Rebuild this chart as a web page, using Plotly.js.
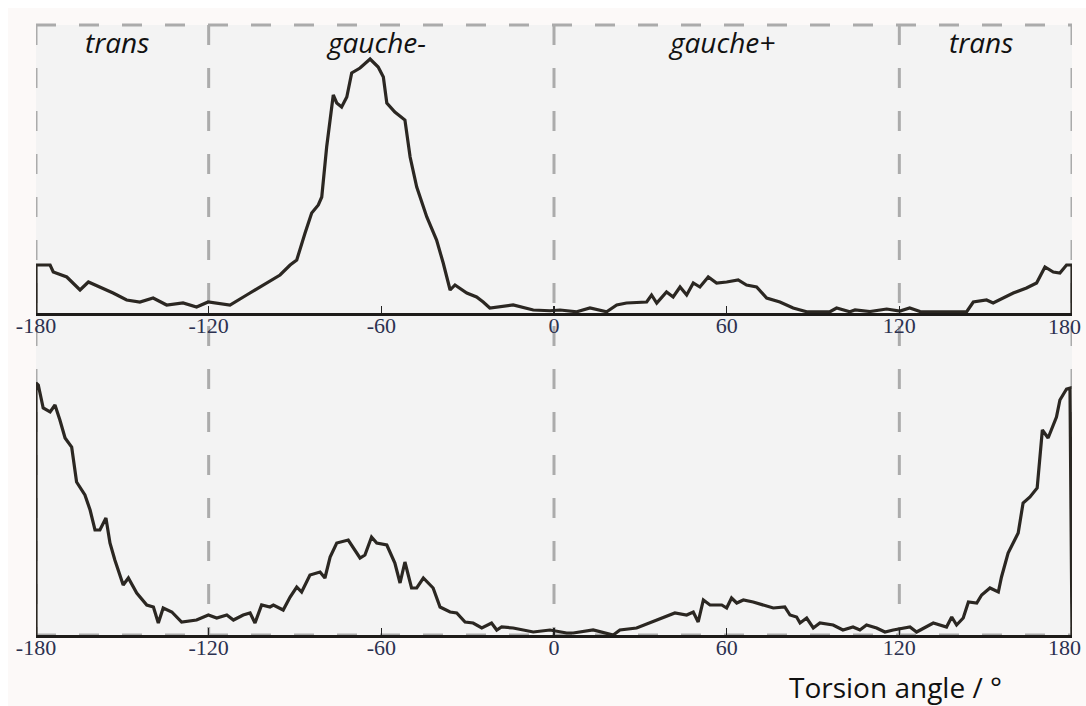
<!DOCTYPE html>
<html>
<head>
<meta charset="utf-8">
<script src="https://cdn.plot.ly/plotly-3.0.1.min.js"></script>
<style>
  html, body { margin: 0; padding: 0; background: #ffffff; }
  #chart { width: 1086px; height: 706px; }
</style>
</head>
<body>
<div id="chart"></div>
<script>
// Torsion-angle distributions (arbitrary density units), two conditions.
const tickAngles = [-180, -120, -60, 0, 60, 120, 180];
const tickLabels = ['-180', '-120', '-60', '0', '60', '120', '180'];
const regionBounds = [-180, -120, 0, 120, 180];
const regionNames = ['trans', 'gauche-', 'gauche+', 'trans'];
const regionCenters = [-150, -60, 60, 150];

const upperAngle = [
  -180, -180, -175.1, -174.0, -169.3, -164.7, -161.8, -157.8, -153.2, -148.5,
  -143.9, -139.3, -134.6, -128.9, -124.2, -120.2, -112.6, -106.8, -99.8, -95.2,
  -91.7, -89.4, -86.5, -84.2, -81.9, -80.7, -79.0, -76.7, -75.5, -73.8,
  -72.0, -70.3, -67.4, -63.9, -61.1, -59.3, -58.1, -55.3, -51.8, -50.0,
  -47.7, -44.2, -40.8, -38.5, -36.1, -34.4, -30.3, -26.9, -24.6, -22.3,
  -14.2, -7.2, -1.4, 2.1, 7.9, 12.5, 18.3, 21.8, 25.2, 32.2,
  33.9, 35.7, 39.1, 41.4, 43.8, 46.1, 48.4, 50.7, 53.6, 56.5,
  60.0, 64.0, 66.9, 70.4, 73.9, 78.5, 83.1, 87.8, 95.9, 98.2,
  102.8, 104.6, 109.8, 115.6, 120.2, 123.6, 127.2, 134.1, 141.1, 143.4,
  145.7, 150.3, 152.6, 156.1, 159.6, 164.2, 167.7, 170.6, 173.5, 175.8,
  178.1, 179.5, 180, 180
];
const upperDensity = [
  0, 19.2, 19.2, 16.4, 14.4, 9.2, 12.4, 10.4, 8, 5.2,
  4.4, 6, 3.2, 4, 2.4, 4.4, 3.2, 7.2, 12, 15.2,
  19.2, 21.2, 32, 40, 43.2, 46.4, 66.4, 87.2, 84, 82.4,
  86.4, 96, 98, 101.6, 98.4, 94.4, 84, 80.4, 77.2, 62.4,
  50.4, 38.4, 29.2, 20, 9.2, 11.2, 8, 6.4, 4.4, 2,
  3.2, 1.2, 0.9, 1.2, 0.5, 2, 0.5, 3.2, 4, 4.4,
  7.2, 4, 8.4, 6.4, 10.4, 7.2, 12, 10.4, 14.4, 12,
  12.4, 13.2, 11.2, 10.4, 6, 4.4, 2, 0.5, 0.5, 2,
  0.5, 1.2, 0.6, 1.6, 0.8, 2, 0.6, 0.6, 0.8, 0.5,
  4.4, 5.2, 4, 6, 8, 10, 12, 18.4, 16.4, 16,
  19.2, 19.2, 19.2, 0
];

const lowerAngle = [
  -180, -180, -179.2, -177.5, -175.1, -173.4, -171.7, -169.9, -167.6, -165.9,
  -163.0, -161.2, -159.5, -157.8, -155.7, -154.3, -152.6, -149.7, -147.9, -145.0,
  -141.5, -139.2, -137.5, -135.8, -132.8, -129.4, -124.2, -120.1, -117.2, -113.7,
  -111.4, -108.0, -105.6, -103.9, -101.6, -98.7, -97.5, -94.1, -91.7, -89.4,
  -87.7, -84.8, -81.3, -79.6, -77.8, -75.5, -71.5, -67.4, -65.7, -63.4,
  -61.6, -58.1, -55.3, -53.5, -51.8, -49.5, -47.7, -45.4, -42.0, -39.6,
  -36.1, -33.8, -30.9, -28.1, -25.1, -21.7, -19.9, -18.2, -14.2, -7.2,
  -1.4, 4.4, 6.7, 9.0, 13.6, 20.6, 22.9, 28.7, 33.3, 38.0,
  42.0, 46.1, 48.4, 50.1, 51.9, 54.2, 58.3, 60.0, 61.7, 63.5,
  65.8, 69.2, 72.7, 76.2, 80.2, 82.0, 84.3, 85.5, 87.8, 90.1,
  92.4, 97.0, 100.4, 103.9, 106.3, 108.6, 112.1, 115.0, 117.9, 123.7,
  126.0, 131.8, 136.4, 138.2, 139.9, 142.2, 144.0, 146.9, 148.6, 151.5,
  154.4, 155.5, 157.8, 161.3, 163.0, 165.4, 167.9, 168.8, 169.7, 171.7,
  174.6, 175.8, 178.1, 179.3, 180
];
const lowerDensity = [
  0, 100.8, 100, 90.8, 89.2, 92, 86, 78.8, 75.2, 61.2,
  56, 50, 42, 42, 46.8, 36.8, 30, 20, 22.8, 16.8,
  12, 11.2, 4.8, 10.8, 9.2, 5.2, 6, 8, 6.8, 8,
  6, 8, 8.8, 4.8, 12, 11.2, 12, 10, 15.2, 19.2,
  17.2, 24, 25.2, 22.8, 31.2, 36.8, 38, 30.8, 32, 39.2,
  36.8, 36, 28.8, 20.8, 29.2, 18.8, 18.8, 22.8, 18.8, 11.2,
  9.2, 8.8, 5.2, 4.8, 2.8, 4.8, 2, 3.2, 2.8, 1.2,
  2, 0.8, 0.8, 1.2, 2, 0, 2, 2.8, 4.8, 6.8,
  8.8, 8, 9.2, 5.2, 14, 12, 12, 10.8, 14.8, 12.8,
  14, 13.2, 12, 10.8, 11.2, 8, 7.2, 4.8, 6.8, 2.8,
  4.8, 4, 2, 3.2, 2, 4, 2.8, 1.2, 2, 3.2,
  1.2, 4.8, 3.2, 7.2, 4, 6.8, 13.2, 12.8, 16, 18.8,
  17.2, 23.2, 32.8, 40.8, 52.8, 55.2, 58.8, 71.2, 82, 78.8,
  87.2, 94, 98.4, 98.8, 0
];

const W = 1086, H = 706;
const px = v => v / W;          // horizontal pixel -> paper fraction
const py = v => 1 - v / H;      // vertical pixel (from top) -> paper fraction

const frameTop = py(25), frameBottom = py(635);
const dashStyle = { color: '#ababab', width: 3, dash: '20px,23px' };
const tickFont = { family: 'Liberation Serif, serif', size: 22, color: '#2c3150' };

const shapes = [
  { type: 'rect', layer: 'below', xref: 'paper', yref: 'paper',
    x0: px(8), x1: 1, y0: 0, y1: py(8),
    fillcolor: '#fcf9f8', line: { width: 0 } },
  { type: 'rect', layer: 'below', xref: 'x', yref: 'paper',
    x0: regionBounds[0], x1: regionBounds[regionBounds.length - 1],
    y0: frameBottom, y1: frameTop,
    fillcolor: '#f3f3f3', line: { width: 0 } },
  { type: 'line', layer: 'below', xref: 'x', yref: 'paper',
    x0: regionBounds[0], x1: regionBounds[regionBounds.length - 1],
    y0: frameTop, y1: frameTop, line: dashStyle },
  { type: 'line', layer: 'below', xref: 'x', yref: 'paper',
    x0: regionBounds[0], x1: regionBounds[regionBounds.length - 1],
    y0: frameBottom, y1: frameBottom, line: dashStyle }
];
regionBounds.forEach(b => {
  shapes.push({ type: 'line', layer: 'below', xref: 'x', yref: 'paper',
    x0: b, x1: b, y0: frameTop, y1: frameBottom, line: dashStyle });
});

const annotations = regionNames.map((name, i) => ({
  text: name, xref: 'x', yref: 'paper', x: regionCenters[i], y: py(42),
  xanchor: 'center', yanchor: 'middle', showarrow: false, xshift: -5,
  font: { family: 'Open Sans, sans-serif', size: 28, style: 'italic', color: '#111111' }
}));
annotations.push({
  text: 'Torsion angle / °', xref: 'paper', yref: 'paper',
  x: px(1004), y: py(687), xanchor: 'right', yanchor: 'middle', showarrow: false,
  font: { family: 'Open Sans, sans-serif', size: 28, color: '#111111' }
});

// The last tick label sits against the right edge, so it is set inward as a note.
const lastTick = tickAngles.length - 1;
[['x', py(326)], ['x2', py(647)]].forEach(([axRef, yPos]) => {
  annotations.push({
    text: tickLabels[lastTick], xref: axRef, yref: 'paper',
    x: tickAngles[lastTick], y: yPos, xanchor: 'right', yanchor: 'middle',
    xshift: 11, showarrow: false, font: tickFont
  });
});
const axisTickText = tickLabels.map((t, i) => (i === lastTick ? '' : t));

const xAxisBase = {
  domain: [px(36), px(1072)], range: [-180, 180],
  tickmode: 'array', tickvals: tickAngles, ticktext: axisTickText,
  ticks: 'inside', ticklen: 7, tickwidth: 1.5, tickcolor: '#222222',
  showline: true, linecolor: '#1d1b19', linewidth: 2.5,
  showgrid: false, zeroline: false, fixedrange: true,
  ticklabelstandoff: -9,
  tickfont: tickFont
};
const yAxisBase = {
  showline: false, showgrid: false, zeroline: false,
  showticklabels: false, ticks: '', fixedrange: true
};

const lineStyle = { color: '#2b2722', width: 3.2, shape: 'linear' };

const traces = [
  { x: upperAngle, y: upperDensity, xaxis: 'x', yaxis: 'y', type: 'scatter',
    mode: 'lines', line: lineStyle, hoverinfo: 'x+y' },
  { x: lowerAngle, y: lowerDensity, xaxis: 'x2', yaxis: 'y2', type: 'scatter',
    mode: 'lines', line: lineStyle, hoverinfo: 'x+y' }
];

const layout = {
  width: W, height: H,
  margin: { l: 0, r: 0, t: 0, b: 0 },
  paper_bgcolor: '#ffffff', plot_bgcolor: 'rgba(0,0,0,0)',
  showlegend: false,
  xaxis: Object.assign({}, xAxisBase, { anchor: 'y' }),
  xaxis2: Object.assign({}, xAxisBase, { anchor: 'y2' }),
  yaxis: Object.assign({}, yAxisBase, { domain: [py(313), py(25)], range: [0, 115.2], anchor: 'x' }),
  yaxis2: Object.assign({}, yAxisBase, { domain: [py(635), py(340)], range: [0, 118], anchor: 'x2' }),
  shapes: shapes,
  annotations: annotations
};

Plotly.newPlot('chart', traces, layout, { displayModeBar: false, staticPlot: true });
</script>
</body>
</html>
